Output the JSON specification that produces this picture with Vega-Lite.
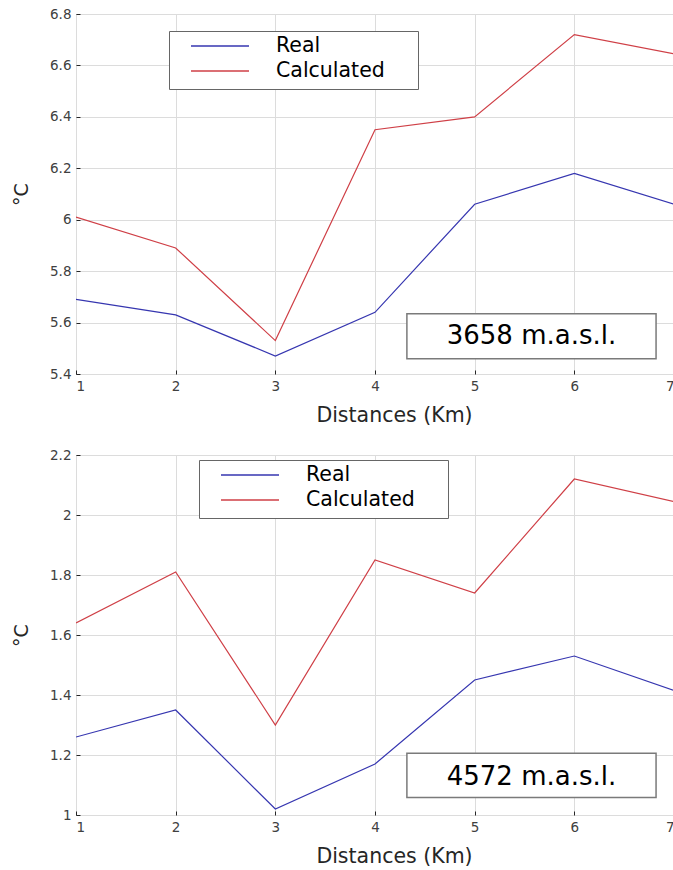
{
  "$schema": "https://vega.github.io/schema/vega-lite/v6.json",
  "padding": {"left": 12, "top": 6, "right": 0, "bottom": 0},
  "spacing": 20,
  "config": {
    "font": "DejaVu Sans",
    "view": {"stroke": "#262626", "strokeWidth": 1},
    "axis": {
      "domain": false,
      "gridColor": "#dcdcdc",
      "gridWidth": 1,
      "tickColor": "#262626",
      "tickSize": -4,
      "labelFont": "DejaVu Sans",
      "labelFontSize": 13.5,
      "labelColor": "#404040",
      "labelPadding": 9,
      "titleFont": "DejaVu Sans",
      "titleFontWeight": "normal",
      "titleColor": "#262626"
    },
    "legend": {
      "strokeColor": "#666666",
      "fillColor": "white",
      "padding": 7,
      "symbolType": "stroke",
      "symbolSize": 3364,
      "symbolStrokeWidth": 1.3,
      "symbolOffset": 14,
      "labelOffset": 26,
      "labelFontSize": 20.5,
      "labelFont": "DejaVu Sans",
      "labelColor": "black",
      "clipHeight": 16,
      "rowPadding": 4,
      "labelLimit": 300,
      "titleOrient": "right",
      "titlePadding": 26,
      "titleFontSize": 10
    }
  },
  "datasets": {
    "temps": [
      {"altitude": 3658, "series": "Real", "distance": 1, "temp": 5.69},
      {"altitude": 3658, "series": "Real", "distance": 2, "temp": 5.63},
      {"altitude": 3658, "series": "Real", "distance": 3, "temp": 5.47},
      {"altitude": 3658, "series": "Real", "distance": 4, "temp": 5.64},
      {"altitude": 3658, "series": "Real", "distance": 5, "temp": 6.06},
      {"altitude": 3658, "series": "Real", "distance": 6, "temp": 6.18},
      {"altitude": 3658, "series": "Real", "distance": 7, "temp": 6.06},
      {"altitude": 3658, "series": "Calculated", "distance": 1, "temp": 6.01},
      {"altitude": 3658, "series": "Calculated", "distance": 2, "temp": 5.89},
      {"altitude": 3658, "series": "Calculated", "distance": 3, "temp": 5.53},
      {"altitude": 3658, "series": "Calculated", "distance": 4, "temp": 6.35},
      {"altitude": 3658, "series": "Calculated", "distance": 5, "temp": 6.40},
      {"altitude": 3658, "series": "Calculated", "distance": 6, "temp": 6.72},
      {"altitude": 3658, "series": "Calculated", "distance": 7, "temp": 6.645},
      {"altitude": 4572, "series": "Real", "distance": 1, "temp": 1.26},
      {"altitude": 4572, "series": "Real", "distance": 2, "temp": 1.35},
      {"altitude": 4572, "series": "Real", "distance": 3, "temp": 1.02},
      {"altitude": 4572, "series": "Real", "distance": 4, "temp": 1.17},
      {"altitude": 4572, "series": "Real", "distance": 5, "temp": 1.45},
      {"altitude": 4572, "series": "Real", "distance": 6, "temp": 1.53},
      {"altitude": 4572, "series": "Real", "distance": 7, "temp": 1.415},
      {"altitude": 4572, "series": "Calculated", "distance": 1, "temp": 1.64},
      {"altitude": 4572, "series": "Calculated", "distance": 2, "temp": 1.81},
      {"altitude": 4572, "series": "Calculated", "distance": 3, "temp": 1.30},
      {"altitude": 4572, "series": "Calculated", "distance": 4, "temp": 1.85},
      {"altitude": 4572, "series": "Calculated", "distance": 5, "temp": 1.74},
      {"altitude": 4572, "series": "Calculated", "distance": 6, "temp": 2.12},
      {"altitude": 4572, "series": "Calculated", "distance": 7, "temp": 2.045}
    ]
  },
  "vconcat": [
    {
      "width": 598,
      "height": 360,
      "layer": [
        {
          "data": {"name": "temps"},
          "transform": [{"filter": "datum.altitude == 3658"}],
          "mark": {"type": "line", "strokeWidth": 1.2, "clip": true},
          "encoding": {
            "x": {"field": "distance", "type": "quantitative", "scale": {"domain": [1, 7], "nice": false}, "axis": {"values": [1, 2, 3, 4, 5, 6, 7], "format": "d", "title": "Distances (Km)", "titleFontSize": 20.5, "titlePadding": 13, "titleX": 318}},
            "y": {"field": "temp", "type": "quantitative", "scale": {"domain": [5.4, 6.8], "nice": false, "zero": false}, "axis": {"values": [5.4, 5.6, 5.8, 6, 6.2, 6.4, 6.6, 6.8], "format": ".2~f", "title": "°C", "titleFontSize": 19, "titlePadding": 18}},
            "color": {"field": "series", "type": "nominal", "scale": {"domain": ["Real", "Calculated"], "range": ["#3636b0", "#cf3f46"]}, "legend": {"orient": "none", "legendX": 93, "legendY": 17, "title": " "}}
          }
        },
        {
          "data": {"values": [{"label": "3658 m.a.s.l."}]},
          "mark": {"type": "rect", "fill": "white", "stroke": "#7a7a7a", "strokeWidth": 1.5},
          "encoding": {"x": {"datum": 4.32}, "x2": {"datum": 6.82}, "y": {"datum": 5.634}, "y2": {"datum": 5.459}}
        },
        {
          "data": {"values": [{"label": "3658 m.a.s.l."}]},
          "mark": {"type": "text", "fontSize": 26, "color": "black", "align": "center", "baseline": "middle"},
          "encoding": {"x": {"datum": 5.57}, "y": {"datum": 5.546}, "text": {"field": "label"}}
        }
      ]
    },
    {
      "width": 598,
      "height": 360,
      "layer": [
        {
          "data": {"name": "temps"},
          "transform": [{"filter": "datum.altitude == 4572"}],
          "mark": {"type": "line", "strokeWidth": 1.2, "clip": true},
          "encoding": {
            "x": {"field": "distance", "type": "quantitative", "scale": {"domain": [1, 7], "nice": false}, "axis": {"values": [1, 2, 3, 4, 5, 6, 7], "format": "d", "title": "Distances (Km)", "titleFontSize": 20.5, "titlePadding": 13, "titleX": 318}},
            "y": {"field": "temp", "type": "quantitative", "scale": {"domain": [1, 2.2], "nice": false, "zero": false}, "axis": {"values": [1, 1.2, 1.4, 1.6, 1.8, 2, 2.2], "format": ".2~f", "title": "°C", "titleFontSize": 19, "titlePadding": 18}},
            "color": {"field": "series", "type": "nominal", "scale": {"domain": ["Real", "Calculated"], "range": ["#3636b0", "#cf3f46"]}, "legend": {"orient": "none", "legendX": 123, "legendY": 5, "title": " "}}
          }
        },
        {
          "data": {"values": [{"label": "4572 m.a.s.l."}]},
          "mark": {"type": "rect", "fill": "white", "stroke": "#7a7a7a", "strokeWidth": 1.5},
          "encoding": {"x": {"datum": 4.32}, "x2": {"datum": 6.82}, "y": {"datum": 1.206}, "y2": {"datum": 1.058}}
        },
        {
          "data": {"values": [{"label": "4572 m.a.s.l."}]},
          "mark": {"type": "text", "fontSize": 26, "color": "black", "align": "center", "baseline": "middle"},
          "encoding": {"x": {"datum": 5.57}, "y": {"datum": 1.128}, "text": {"field": "label"}}
        }
      ]
    }
  ],
  "resolve": {"legend": {"color": "independent"}, "scale": {"color": "independent"}}
}
